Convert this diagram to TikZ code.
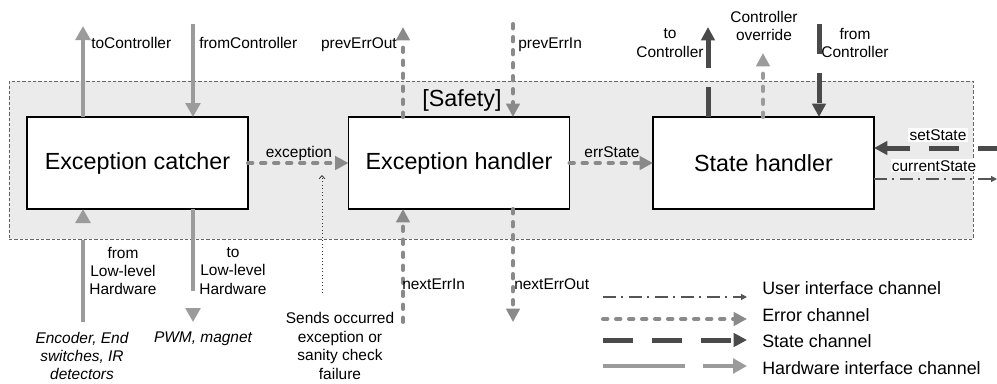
\documentclass[tikz,border=0pt]{standalone}
\usepackage{fontspec}
\setmainfont{Liberation Sans}
\usepackage{xcolor}
\definecolor{ColHw}{RGB}{155,155,155}
\definecolor{ColErr}{RGB}{138,138,138}
\definecolor{ColState}{RGB}{74,74,74}
\definecolor{ColUi}{RGB}{85,85,85}
\definecolor{ColZone}{RGB}{235,235,235}
\definecolor{ColBorder}{RGB}{100,100,100}
\usepackage{tikz}
\usetikzlibrary{arrows.meta}
\newcommand{\BigFont}{\fontsize{17.5}{21}\selectfont}
\newcommand{\SmallFont}{\fontsize{11.6}{13.8}\selectfont}
\newcommand{\LegFont}{\fontsize{13.4}{16}\selectfont}
\tikzstyle{Box}=[draw=black,fill=white,line width=0.9pt,
minimum width=165.75pt,minimum height=69pt,inner sep=0pt,outer sep=0pt,
font=\BigFont]
\tikzstyle{Lbl}=[inner sep=0pt,font=\SmallFont,align=center]
\tikzstyle{LegText}=[inner sep=0pt,font=\LegFont,anchor=base west]
\tikzstyle{HwEdge}=[color=ColHw,line width=3pt,
dash pattern=on 61.5pt off 13.5pt,-{Triangle[length=10.5pt,width=11pt]}]
\tikzstyle{ErrEdge}=[color=ColErr,line width=3pt,line cap=round,
dash pattern=on 3.3pt off 6.45pt,-{Triangle[length=10pt,width=10pt]}]
\tikzstyle{StateEdge}=[color=ColState,line width=3.75pt,
dash pattern=on 22.5pt off 14.25pt,-{Triangle[length=10pt,width=10pt]}]
\tikzstyle{UiEdge}=[color=ColUi,line width=0.9pt,
dash pattern=on 9.75pt off 3.75pt on 1.5pt off 4.5pt,
-{Triangle[length=4.5pt,width=4.5pt]}]
\tikzstyle{NoteEdge}=[color=black!80,line width=0.6pt,dotted,
-{Straight Barb[length=2.5pt,width=4.5pt]}]

\begin{document}
\begin{tikzpicture}[x=0.75pt,y=-0.75pt]
            \useasboundingbox(0,0)rectangle(997,383);
            \node[draw=ColBorder,fill=ColZone,line width=0.75pt,
                dash pattern=on 2.5pt off 1.5pt,minimum width=723pt,
                minimum height=118.5pt,inner sep=0pt](zone)at(491,160){};
            \node[font=\BigFont,inner sep=0pt,anchor=base](safety)
                at(462,106){[Safety]};
            \node[Box](catcher)at(137.5,163){Exception catcher};
            \node[Box](handler)at(459,163){Exception handler};
            \node[Box](stateH)at(763.5,163){State handler};
            %
            \coordinate(toCtrl)at(83,26);
            \coordinate(fromCtrl)at(193,24);
            \coordinate(fromHw)at(83,322);
            \coordinate(toHw)at(193,322);
            \coordinate(prevOut)at(403,27);
            \coordinate(prevIn)at(513,24);
            \coordinate(nextIn)at(403,322);
            \coordinate(nextOut)at(513,322);
            \coordinate(stToCtrl)at(708,27);
            \coordinate(override)at(763,53);
            \coordinate(stFromCtrl)at(819,24);
            \coordinate(setIn)at(997,148);
            \coordinate(curOut)at(997,179);
            \coordinate(noteBot)at(322,293);
            \coordinate(noteTop)at(322,175);
            %
            \draw[HwEdge](catcher.north-|toCtrl)--(toCtrl);
            \draw[HwEdge](fromCtrl)--(catcher.north-|fromCtrl);
            \draw[HwEdge](fromHw)--(catcher.south-|fromHw);
            \draw[HwEdge](catcher.south-|toHw)--(toHw);
            \draw[ErrEdge](catcher.east)--(handler.west);
            \draw[ErrEdge](handler.east)--(stateH.west);
            \draw[ErrEdge](handler.north-|prevOut)--(prevOut);
            \draw[ErrEdge](prevIn)--(handler.north-|prevIn);
            \draw[ErrEdge](nextIn)--(handler.south-|nextIn);
            \draw[ErrEdge](handler.south-|nextOut)--(nextOut);
            \draw[StateEdge](stateH.north-|stToCtrl)--(stToCtrl);
            \draw[ErrEdge,color=ColHw](stateH.north-|override)--(override);
            \draw[StateEdge](stFromCtrl)--(stateH.north-|stFromCtrl);
            \draw[StateEdge,dash phase=8.25pt](setIn)--(stateH.east|-setIn);
            \draw[UiEdge](stateH.east|-curOut)--(curOut);
            \draw[NoteEdge](noteBot)--(noteTop);
            %
            \node[Lbl,anchor=base west](lToCtrl)at(91,48.5){toController};
            \node[Lbl,anchor=base west](lFromCtrl)at(199,48.5){fromController};
            \node[Lbl,anchor=base east](lPrevOut)at(397,48.5){prevErrOut};
            \node[Lbl,anchor=base west](lPrevIn)at(518,48.5){prevErrIn};
            \node[Lbl,anchor=base](lExc)at(299,157.5){exception};
            \node[Lbl,anchor=base](lErrState)at(612,157.5){errState};
            \node[Lbl](lStToCtrl)at(670,43){to\\Controller};
            \node[Lbl](lOverride)at(764,26){Controller\\override};
            \node[Lbl](lStFromCtrl)at(855,43){from\\Controller};
            \node[Lbl,anchor=base,fill=white,inner sep=1pt](lSet)
                at(938,140.5){setState};
            \node[Lbl,anchor=base,fill=white,inner sep=1pt](lCur)
                at(934,171){currentState};
            \node[Lbl](lFromHw)at(123,271){from\\Low-level\\Hardware};
            \node[Lbl](lToHw)at(233,271){to\\Low-level\\Hardware};
            \node[Lbl,font=\SmallFont\itshape](lSensors)
                at(82,356){Encoder, End\\switches, IR\\detectors};
            \node[Lbl,font=\SmallFont\itshape,anchor=base](lActuators)
                at(203,342.5){PWM, magnet};
            \node[Lbl](lNote)at(340,346)
                {Sends occurred\\exception or\\sanity check\\failure};
            \node[Lbl,anchor=base west](lNextIn)at(402,289.5){nextErrIn};
            \node[Lbl,anchor=base west](lNextOut)at(514,289.5){nextErrOut};
            %
            \coordinate(ui1)at(603,297);
            \coordinate(ui2)at(747,297);
            \coordinate(err1)at(603,319);
            \coordinate(err2)at(747,319);
            \coordinate(st1)at(603,340);
            \coordinate(st2)at(747,340);
            \coordinate(hw1)at(603,366);
            \coordinate(hw2)at(747,366);
            \draw[UiEdge](ui1)--(ui2);
            \draw[ErrEdge](err1)--(err2);
            \draw[StateEdge](st1)--(st2);
            \draw[HwEdge](hw1)--(hw2);
            \node[LegText](legUi)at(762,294.4){User interface channel};
            \node[LegText](legErr)at(762,321.4){Error channel};
            \node[LegText](legSt)at(762,347.4){State channel};
            \node[LegText](legHw)at(762,374.4){Hardware interface channel};
        \end{tikzpicture}
\end{document}
